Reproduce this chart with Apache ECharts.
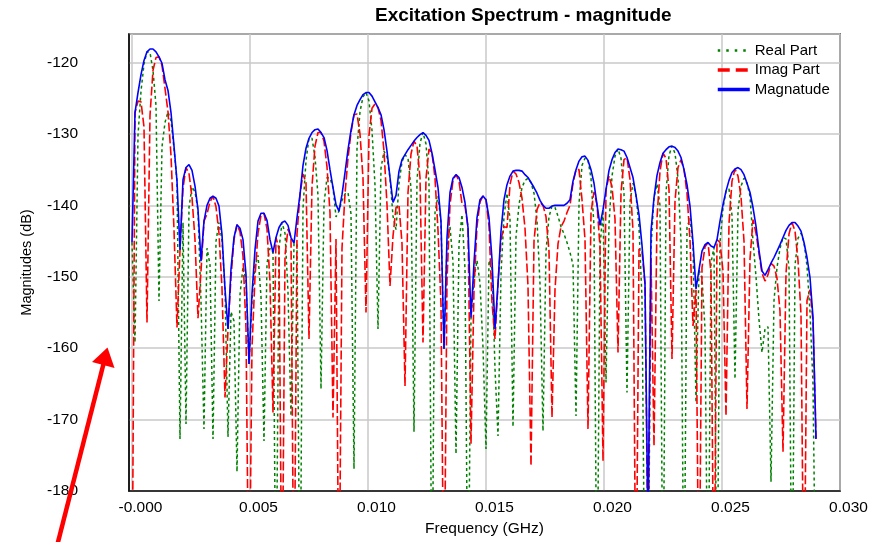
<!DOCTYPE html>
<html>
<head>
<meta charset="utf-8">
<script src="https://cdn.jsdelivr.net/npm/echarts@6.0.0/dist/echarts.min.js"></script>
<style>
  html, body { margin: 0; padding: 0; background: #fff; }
  #chart { width: 875px; height: 542px; }
</style>
</head>
<body>
<div id="chart"></div>
<script>
// Excitation spectrum: real part, imaginary part and magnitude (dB) on a uniform frequency grid.
const FONT = '"Liberation Sans", Arial, Helvetica, sans-serif';

// spacing of the spectrum samples, GHz
const freqStepGHz = 1.2712e-4;

// |X(f)| in dB
const magnitude = [
  -145.2,-127.0,-124.2,-121.7,-119.7,-118.5,-118.1,-118.1,-118.5,-119.2,
  -120.1,-122.4,-123.9,-127.0,-131.7,-136.6,-146.2,-136.4,-134.7,-134.3,
  -135.1,-137.3,-140.6,-147.8,-142.2,-140.0,-139.0,-138.7,-139.0,-140.1,
  -144.1,-151.7,-157.3,-148.9,-144.5,-142.7,-143.2,-144.8,-149.7,-162.2,
  -152.4,-146.2,-142.2,-141.1,-141.1,-142.1,-144.8,-146.6,-144.5,-143.1,
  -142.4,-142.2,-142.8,-144.5,-145.3,-141.7,-138.5,-134.4,-132.0,-130.6,
  -129.8,-129.4,-129.3,-129.8,-130.5,-132.3,-135.0,-137.5,-139.9,-140.8,
  -138.5,-135.4,-132.2,-129.5,-127.3,-126.0,-125.2,-124.5,-124.2,-124.2,
  -124.7,-125.5,-126.3,-127.3,-129.4,-132.4,-136.1,-139.6,-138.6,-135.2,
  -133.6,-132.9,-132.2,-131.6,-131.0,-130.5,-130.1,-129.8,-130.2,-130.9,
  -132.7,-135.0,-137.5,-142.2,-160.1,-144.5,-138.2,-136.2,-135.7,-136.1,
  -137.5,-139.6,-143.1,-155.7,-148.0,-141.7,-139.2,-138.7,-139.2,-141.7,
  -147.6,-157.3,-151.0,-143.6,-139.2,-137.1,-135.9,-135.2,-135.1,-135.1,
  -135.2,-135.7,-136.1,-136.8,-137.5,-138.3,-139.3,-140.0,-140.4,-140.4,
  -140.1,-140.0,-140.0,-140.0,-140.0,-139.7,-139.2,-136.6,-135.0,-133.8,
  -133.2,-133.1,-133.7,-135.0,-136.9,-139.9,-142.8,-140.6,-137.8,-135.1,
  -133.6,-132.6,-132.1,-132.2,-132.4,-133.3,-134.7,-136.1,-138.6,-141.3,
  -145.6,-151.0,-186.0,-143.6,-138.9,-135.8,-134.0,-132.7,-132.2,-131.8,
  -131.7,-131.9,-132.4,-133.3,-135.0,-137.1,-140.1,-145.2,-151.7,-149.0,
  -146.4,-145.5,-145.2,-145.7,-145.9,-144.8,-142.2,-139.9,-138.0,-136.5,
  -135.4,-134.9,-134.7,-135.0,-135.7,-136.9,-138.2,-140.3,-142.9,-146.3,
  -149.2,-149.8,-149.0,-148.1,-147.3,-146.4,-145.5,-144.5,-143.5,-142.8,
  -142.4,-142.4,-142.9,-143.6,-145.2,-147.3,-150.1,-155.7,-172.7
];

// |Re X(f)| in dB
const realPart = [
  -145.2,-159.2,-130.2,-124.0,-120.2,-118.5,-118.6,-121.1,-126.0,-153.4,
  -131.8,-128.4,-126.9,-128.2,-132.0,-136.6,-172.7,-142.4,-170.6,-140.3,
  -137.4,-138.1,-140.7,-153.4,-171.3,-146.0,-148.3,-172.7,-145.0,-142.4,
  -144.9,-151.8,-172.4,-154.9,-156.2,-177.3,-152.5,-148.6,-150.5,-162.2,
  -153.2,-148.5,-147.0,-152.8,-173.0,-148.1,-146.0,-146.6,-200.0,-146.1,
  -142.4,-143.9,-152.1,-169.5,-145.3,-145.5,-200.0,-140.4,-133.7,-130.6,
  -130.6,-133.2,-138.6,-165.7,-139.8,-136.1,-136.2,-137.5,-141.6,-140.8,
  -139.3,-138.4,-138.2,-141.2,-176.9,-132.0,-126.9,-124.8,-124.2,-125.4,
  -129.5,-137.2,-157.3,-134.8,-132.4,-133.2,-136.2,-141.5,-143.4,-136.9,
  -133.9,-132.9,-133.4,-137.6,-171.7,-136.5,-131.3,-129.8,-131.4,-136.9,
  -200.0,-141.0,-138.7,-142.5,-160.1,-145.7,-143.0,-147.9,-174.8,-145.4,
  -141.3,-148.9,-200.0,-155.8,-150.3,-147.7,-150.9,-159.9,-174.1,-147.7,
  -148.8,-162.9,-172.3,-149.6,-141.5,-138.3,-141.9,-171.0,-144.4,-139.9,
  -137.5,-136.5,-136.2,-136.8,-138.3,-142.1,-151.0,-171.6,-146.4,-141.6,
  -140.1,-140.3,-141.5,-143.0,-144.0,-145.2,-146.6,-148.3,-169.5,-139.8,
  -134.4,-133.4,-133.7,-136.2,-142.9,-200.0,-145.8,-140.6,-164.8,-142.6,
  -135.9,-133.1,-132.1,-133.4,-138.4,-166.2,-139.5,-136.9,-138.6,-143.0,
  -153.1,-200.0,-200.0,-145.9,-138.9,-137.0,-140.0,-200.0,-138.2,-133.0,
  -131.7,-132.7,-136.2,-145.0,-200.0,-143.1,-141.8,-145.5,-167.6,-149.0,
  -150.2,-157.2,-200.0,-148.0,-145.9,-200.0,-145.2,-140.4,-138.0,-137.7,
  -141.4,-164.3,-140.7,-137.3,-136.2,-136.9,-138.7,-145.0,-150.0,-156.0,
  -160.6,-157.3,-157.0,-178.7,-153.3,-148.7,-146.0,-144.5,-144.7,-148.8,
  -200.0,-148.4,-144.6,-143.9,-145.2,-148.5,-154.9,-165.0,-200.0
];

// |Im X(f)| in dB
const imagPart = [
  -200.0,-127.0,-125.4,-125.5,-129.0,-156.4,-127.4,-121.1,-119.3,-119.2,
  -120.4,-123.6,-126.9,-133.0,-143.4,-157.1,-146.3,-137.6,-134.7,-135.5,
  -138.9,-144.8,-155.8,-149.2,-142.2,-141.2,-139.5,-138.7,-140.2,-143.9,
  -151.6,-166.9,-157.4,-150.1,-144.8,-142.7,-143.7,-147.1,-157.2,-200.0,
  -159.9,-150.0,-143.9,-141.4,-141.1,-143.3,-150.8,-169.0,-144.5,-146.1,
  -200.0,-147.0,-143.3,-144.5,-200.0,-144.0,-138.5,-135.6,-136.8,-158.7,
  -137.3,-131.7,-129.8,-129.8,-131.0,-134.6,-141.0,-169.7,-144.7,-200.0,
  -146.0,-138.4,-133.4,-129.8,-127.3,-127.2,-130.0,-136.2,-155.0,-130.2,
  -126.4,-125.8,-126.3,-128.1,-132.4,-139.9,-151.3,-144.3,-140.3,-140.0,
  -145.3,-165.3,-138.2,-132.8,-131.0,-131.7,-136.1,-159.2,-136.2,-132.1,
  -132.7,-136.2,-143.5,-153.9,-200.0,-150.5,-139.9,-136.5,-135.7,-136.6,
  -139.8,-140.1,-143.1,-173.4,-151.8,-142.9,-139.5,-138.7,-139.2,-142.9,
  -153.6,-158.7,-151.0,-144.8,-143.0,-143.1,-137.1,-135.2,-135.6,-136.8,
  -139.0,-143.2,-151.3,-176.5,-145.0,-140.6,-139.6,-140.0,-141.6,-146.4,
  -169.7,-151.8,-145.4,-143.0,-142.2,-141.0,-140.0,-136.9,-135.0,-135.0,
  -139.2,-144.8,-171.3,-141.0,-138.1,-139.9,-145.8,-175.8,-137.8,-135.9,
  -137.4,-141.9,-160.6,-138.2,-133.6,-133.3,-136.4,-143.6,-200.0,-146.1,
  -146.4,-151.0,-190.0,-147.4,-173.7,-141.8,-135.2,-132.7,-133.4,-137.8,
  -161.5,-139.4,-134.7,-133.6,-135.0,-138.3,-144.9,-156.9,-151.8,-200.0,
  -148.7,-145.8,-145.2,-149.5,-200.0,-144.8,-145.2,-149.2,-169.5,-142.5,
  -136.6,-134.9,-135.9,-138.8,-145.0,-168.5,-147.5,-142.0,-143.9,-146.8,
  -149.5,-150.6,-149.7,-148.1,-148.5,-150.2,-154.8,-174.5,-149.5,-144.0,
  -142.4,-143.6,-147.7,-155.3,-200.0,-153.3,-151.8,-156.2,-172.7
];

// frequency tick labels (GHz)
const xTickValues = [0, 0.005, 0.010, 0.015, 0.020, 0.025, 0.030];

const freqGHz = magnitude.map((_, i) => i * freqStepGHz);
const toPairs = vals => vals.map((v, i) => [freqGHz[i], v]);

const lineSeries = (name, vals, lineStyle, z) => ({
  name: name,
  type: 'line',
  data: toPairs(vals),
  symbol: 'none',
  showSymbol: false,
  clip: true,
  silent: true,
  z: z,
  itemStyle: { color: lineStyle.color },
  lineStyle: lineStyle,
  emphasis: { disabled: true }
});

const chart = echarts.init(document.getElementById('chart'), null, { renderer: 'canvas' });

chart.setOption({
  animation: false,
  backgroundColor: '#ffffff',
  title: {
    text: 'Excitation Spectrum - magnitude',
    left: 375,
    top: 6,
    padding: 0,
    textStyle: { fontFamily: FONT, fontSize: 19, fontWeight: 'bold', color: '#000' }
  },
  legend: {
    orient: 'vertical',
    left: 716,
    top: 43,
    padding: 0,
    itemWidth: 32,
    itemHeight: 14,
    itemGap: 4.5,
    selectedMode: false,
    textStyle: { fontFamily: FONT, fontSize: 15, color: '#000' },
    // line samples only, no marker in the middle
    itemStyle: { opacity: 0 },
    data: [
      { name: 'Real Part', lineStyle: { width: 2.5, type: [2.5, 6], opacity: 1 } },
      { name: 'Imag Part', lineStyle: { width: 3.5, type: [12, 6], opacity: 1 } },
      { name: 'Magnatude', lineStyle: { width: 3.5, opacity: 1 } }
    ]
  },
  grid: {
    left: 129, right: 35, top: 34, bottom: 50,
    show: true, borderColor: '#111', borderWidth: 1.5, backgroundColor: '#fff'
  },
  xAxis: {
    type: 'value',
    min: -0.000127,
    max: 0.030,
    name: 'Frequency (GHz)',
    nameLocation: 'middle',
    nameGap: 30,
    nameTextStyle: { fontFamily: FONT, fontSize: 15.5, color: '#000' },
    axisLine: { show: true, onZero: false, lineStyle: { color: '#111', width: 1.5 } },
    axisTick: { show: false, customValues: xTickValues },
    axisLabel: {
      customValues: xTickValues,
      margin: 9,
      padding: [0, 0, 0, 17],
      fontFamily: FONT, fontSize: 15.5, color: '#000',
      formatter: v => (v === 0 ? '-0.000' : v.toFixed(3))
    },
    splitLine: { show: true, lineStyle: { color: '#c8c8c8', width: 1.5 } }
  },
  yAxis: {
    type: 'value',
    min: -180,
    max: -116,
    interval: 10,
    name: 'Magnitudes (dB)',
    nameLocation: 'middle',
    nameGap: 95,
    nameTextStyle: { fontFamily: FONT, fontSize: 14.5, color: '#000' },
    axisLine: { show: true, onZero: false, lineStyle: { color: '#111', width: 1.5 } },
    axisTick: { show: false },
    axisLabel: {
      margin: 51,
      fontFamily: FONT, fontSize: 15.5, color: '#000',
      showMaxLabel: false,
      formatter: v => (v % 10 === 0 ? String(v) : '')
    },
    splitLine: { show: true, lineStyle: { color: '#c8c8c8', width: 1.5 } }
  },
  // annotation arrow pointing at the magnitude axis
  graphic: [
    { type: 'line', silent: true, z: 100,
      shape: { x1: 57, y1: 546, x2: 104, y2: 362 },
      style: { stroke: '#ff0000', lineWidth: 4.5 } },
    { type: 'polygon', silent: true, z: 100,
      shape: { points: [[107.5, 347.5], [92, 362], [114.5, 368]] },
      style: { fill: '#ff0000' } }
  ],
  series: [
    lineSeries('Real Part', realPart, { color: '#008000', width: 1.5, type: [3, 3] }, 2),
    lineSeries('Imag Part', imagPart, { color: '#ff0000', width: 1.6, type: [9, 3] }, 3),
    lineSeries('Magnatude', magnitude, { color: '#0000ff', width: 1.6, type: 'solid' }, 4)
  ]
});
</script>
</body>
</html>
